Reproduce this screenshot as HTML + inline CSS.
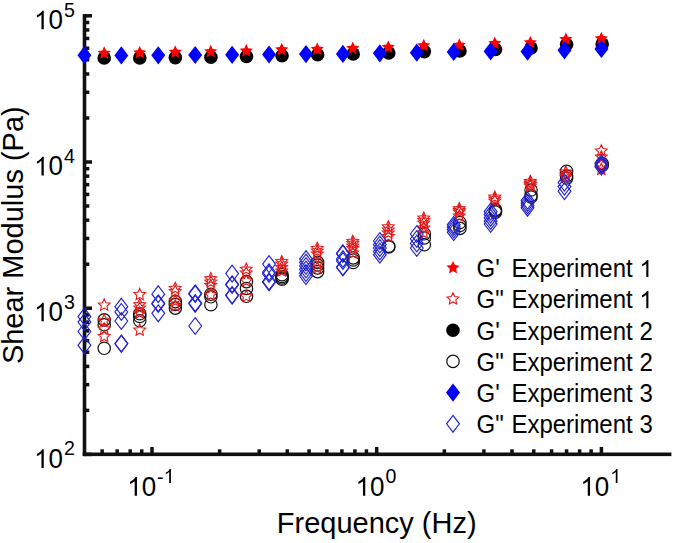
<!DOCTYPE html><html><head><meta charset="utf-8"><style>html,body{margin:0;padding:0;background:#fff;overflow:hidden}svg{display:block}text{font-family:"Liberation Sans",sans-serif;fill:#000}</style></head><body>
<svg width="675" height="543" viewBox="0 0 675 543">
<rect width="675" height="543" fill="#fff"/>
<g fill="#111">
<rect x="82.70" y="14.10" width="3.60" height="442.00"/>
<rect x="82.70" y="452.50" width="588.70" height="3.60"/>
<rect x="84.50" y="452.65" width="7.50" height="3.50"/>
<rect x="84.50" y="408.64" width="4.80" height="3.50"/>
<rect x="84.50" y="382.89" width="4.80" height="3.50"/>
<rect x="84.50" y="364.63" width="4.80" height="3.50"/>
<rect x="84.50" y="350.46" width="4.80" height="3.50"/>
<rect x="84.50" y="338.88" width="4.80" height="3.50"/>
<rect x="84.50" y="329.10" width="4.80" height="3.50"/>
<rect x="84.50" y="320.62" width="4.80" height="3.50"/>
<rect x="84.50" y="313.14" width="4.80" height="3.50"/>
<rect x="84.50" y="306.45" width="7.50" height="3.50"/>
<rect x="84.50" y="262.44" width="4.80" height="3.50"/>
<rect x="84.50" y="236.69" width="4.80" height="3.50"/>
<rect x="84.50" y="218.43" width="4.80" height="3.50"/>
<rect x="84.50" y="204.26" width="4.80" height="3.50"/>
<rect x="84.50" y="192.68" width="4.80" height="3.50"/>
<rect x="84.50" y="182.90" width="4.80" height="3.50"/>
<rect x="84.50" y="174.42" width="4.80" height="3.50"/>
<rect x="84.50" y="166.94" width="4.80" height="3.50"/>
<rect x="84.50" y="160.25" width="7.50" height="3.50"/>
<rect x="84.50" y="116.24" width="4.80" height="3.50"/>
<rect x="84.50" y="90.49" width="4.80" height="3.50"/>
<rect x="84.50" y="72.23" width="4.80" height="3.50"/>
<rect x="84.50" y="58.06" width="4.80" height="3.50"/>
<rect x="84.50" y="46.48" width="4.80" height="3.50"/>
<rect x="84.50" y="36.70" width="4.80" height="3.50"/>
<rect x="84.50" y="28.22" width="4.80" height="3.50"/>
<rect x="84.50" y="20.74" width="4.80" height="3.50"/>
<rect x="84.50" y="14.05" width="7.50" height="3.50"/>
<rect x="150.25" y="447.00" width="3.50" height="7.30"/>
<rect x="374.95" y="447.00" width="3.50" height="7.30"/>
<rect x="599.65" y="447.00" width="3.50" height="7.30"/>
<rect x="100.40" y="449.30" width="3.50" height="5.00"/>
<rect x="115.44" y="449.30" width="3.50" height="5.00"/>
<rect x="128.47" y="449.30" width="3.50" height="5.00"/>
<rect x="139.97" y="449.30" width="3.50" height="5.00"/>
<rect x="217.89" y="449.30" width="3.50" height="5.00"/>
<rect x="257.46" y="449.30" width="3.50" height="5.00"/>
<rect x="285.53" y="449.30" width="3.50" height="5.00"/>
<rect x="307.31" y="449.30" width="3.50" height="5.00"/>
<rect x="325.10" y="449.30" width="3.50" height="5.00"/>
<rect x="340.14" y="449.30" width="3.50" height="5.00"/>
<rect x="353.17" y="449.30" width="3.50" height="5.00"/>
<rect x="364.67" y="449.30" width="3.50" height="5.00"/>
<rect x="442.59" y="449.30" width="3.50" height="5.00"/>
<rect x="482.16" y="449.30" width="3.50" height="5.00"/>
<rect x="510.23" y="449.30" width="3.50" height="5.00"/>
<rect x="532.01" y="449.30" width="3.50" height="5.00"/>
<rect x="549.80" y="449.30" width="3.50" height="5.00"/>
<rect x="564.84" y="449.30" width="3.50" height="5.00"/>
<rect x="577.87" y="449.30" width="3.50" height="5.00"/>
<rect x="589.37" y="449.30" width="3.50" height="5.00"/>
</g>
<path transform="translate(34.07,29.30) scale(0.01270,-0.01270)" d="M763 0L583 0L583 1147Q518 1085 412 1023Q306 961 223 930L223 1104Q372 1174 484 1274Q596 1374 643 1466L763 1466Z"/>
<text transform="translate(48.53,29.30) scale(1,1.041)" font-size="26">0</text>
<text transform="translate(63.89,16.70) scale(1,1.041)" font-size="19.6">5</text>
<path transform="translate(34.07,175.40) scale(0.01270,-0.01270)" d="M763 0L583 0L583 1147Q518 1085 412 1023Q306 961 223 930L223 1104Q372 1174 484 1274Q596 1374 643 1466L763 1466Z"/>
<text transform="translate(48.53,175.40) scale(1,1.041)" font-size="26">0</text>
<text transform="translate(63.89,162.80) scale(1,1.041)" font-size="19.6">4</text>
<path transform="translate(34.07,321.30) scale(0.01270,-0.01270)" d="M763 0L583 0L583 1147Q518 1085 412 1023Q306 961 223 930L223 1104Q372 1174 484 1274Q596 1374 643 1466L763 1466Z"/>
<text transform="translate(48.53,321.30) scale(1,1.041)" font-size="26">0</text>
<text transform="translate(63.89,308.70) scale(1,1.041)" font-size="19.6">3</text>
<path transform="translate(34.07,467.90) scale(0.01270,-0.01270)" d="M763 0L583 0L583 1147Q518 1085 412 1023Q306 961 223 930L223 1104Q372 1174 484 1274Q596 1374 643 1466L763 1466Z"/>
<text transform="translate(48.53,467.90) scale(1,1.041)" font-size="26">0</text>
<text transform="translate(63.89,455.30) scale(1,1.041)" font-size="19.6">2</text>
<path transform="translate(127.27,495.70) scale(0.01270,-0.01270)" d="M763 0L583 0L583 1147Q518 1085 412 1023Q306 961 223 930L223 1104Q372 1174 484 1274Q596 1374 643 1466L763 1466Z"/>
<text transform="translate(141.73,495.70) scale(1,1.041)" font-size="26">0</text>
<text transform="translate(157.09,484.40) scale(1,1.041)" font-size="19.6">-</text>
<path transform="translate(163.62,483.10) scale(0.00957,-0.00957)" d="M763 0L583 0L583 1147Q518 1085 412 1023Q306 961 223 930L223 1104Q372 1174 484 1274Q596 1374 643 1466L763 1466Z"/>
<path transform="translate(355.57,495.70) scale(0.01270,-0.01270)" d="M763 0L583 0L583 1147Q518 1085 412 1023Q306 961 223 930L223 1104Q372 1174 484 1274Q596 1374 643 1466L763 1466Z"/>
<text transform="translate(370.03,495.70) scale(1,1.041)" font-size="26">0</text>
<text transform="translate(385.39,483.10) scale(1,1.041)" font-size="19.6">0</text>
<path transform="translate(580.37,495.70) scale(0.01270,-0.01270)" d="M763 0L583 0L583 1147Q518 1085 412 1023Q306 961 223 930L223 1104Q372 1174 484 1274Q596 1374 643 1466L763 1466Z"/>
<text transform="translate(594.83,495.70) scale(1,1.041)" font-size="26">0</text>
<path transform="translate(610.19,483.10) scale(0.00957,-0.00957)" d="M763 0L583 0L583 1147Q518 1085 412 1023Q306 961 223 930L223 1104Q372 1174 484 1274Q596 1374 643 1466L763 1466Z"/>
<text transform="translate(376.70,533.20) scale(1,1.041)" text-anchor="middle" font-size="29">Frequency (Hz)</text>
<text transform="translate(23.2,235.2) rotate(-90) scale(1,1.041)" text-anchor="middle" font-size="29">Shear Modulus (Pa)</text>
<circle cx="104.20" cy="58.00" r="6.8" fill="#000000"/>
<circle cx="139.77" cy="58.00" r="6.8" fill="#000000"/>
<circle cx="175.34" cy="57.60" r="6.8" fill="#000000"/>
<circle cx="210.91" cy="57.20" r="6.8" fill="#000000"/>
<circle cx="246.48" cy="56.50" r="6.8" fill="#000000"/>
<circle cx="282.05" cy="55.70" r="6.8" fill="#000000"/>
<circle cx="317.62" cy="54.70" r="6.8" fill="#000000"/>
<circle cx="353.19" cy="54.00" r="6.8" fill="#000000"/>
<circle cx="388.76" cy="53.00" r="6.8" fill="#000000"/>
<circle cx="424.33" cy="51.60" r="6.8" fill="#000000"/>
<circle cx="459.90" cy="50.90" r="6.8" fill="#000000"/>
<circle cx="495.47" cy="49.50" r="6.8" fill="#000000"/>
<circle cx="531.04" cy="48.00" r="6.8" fill="#000000"/>
<circle cx="566.61" cy="44.50" r="6.8" fill="#000000"/>
<circle cx="602.18" cy="44.00" r="6.8" fill="#000000"/>
<circle cx="104.20" cy="319.90" r="6.2" fill="none" stroke="#111111" stroke-width="1.2"/>
<circle cx="104.20" cy="324.80" r="6.2" fill="none" stroke="#111111" stroke-width="1.2"/>
<circle cx="104.20" cy="348.30" r="6.2" fill="none" stroke="#111111" stroke-width="1.2"/>
<circle cx="139.77" cy="313.70" r="6.2" fill="none" stroke="#111111" stroke-width="1.2"/>
<circle cx="139.77" cy="316.50" r="6.2" fill="none" stroke="#111111" stroke-width="1.2"/>
<circle cx="139.77" cy="320.80" r="6.2" fill="none" stroke="#111111" stroke-width="1.2"/>
<circle cx="175.34" cy="301.60" r="6.2" fill="none" stroke="#111111" stroke-width="1.2"/>
<circle cx="175.34" cy="304.50" r="6.2" fill="none" stroke="#111111" stroke-width="1.2"/>
<circle cx="175.34" cy="308.10" r="6.2" fill="none" stroke="#111111" stroke-width="1.2"/>
<circle cx="210.91" cy="294.30" r="6.2" fill="none" stroke="#111111" stroke-width="1.2"/>
<circle cx="210.91" cy="296.80" r="6.2" fill="none" stroke="#111111" stroke-width="1.2"/>
<circle cx="210.91" cy="304.70" r="6.2" fill="none" stroke="#111111" stroke-width="1.2"/>
<circle cx="246.48" cy="281.60" r="6.2" fill="none" stroke="#111111" stroke-width="1.2"/>
<circle cx="246.48" cy="288.50" r="6.2" fill="none" stroke="#111111" stroke-width="1.2"/>
<circle cx="246.48" cy="296.30" r="6.2" fill="none" stroke="#111111" stroke-width="1.2"/>
<circle cx="282.05" cy="274.70" r="6.2" fill="none" stroke="#111111" stroke-width="1.2"/>
<circle cx="282.05" cy="276.50" r="6.2" fill="none" stroke="#111111" stroke-width="1.2"/>
<circle cx="282.05" cy="278.00" r="6.2" fill="none" stroke="#111111" stroke-width="1.2"/>
<circle cx="282.05" cy="279.30" r="6.2" fill="none" stroke="#111111" stroke-width="1.2"/>
<circle cx="317.62" cy="262.40" r="6.2" fill="none" stroke="#111111" stroke-width="1.2"/>
<circle cx="317.62" cy="265.00" r="6.2" fill="none" stroke="#111111" stroke-width="1.2"/>
<circle cx="317.62" cy="268.00" r="6.2" fill="none" stroke="#111111" stroke-width="1.2"/>
<circle cx="317.62" cy="271.60" r="6.2" fill="none" stroke="#111111" stroke-width="1.2"/>
<circle cx="353.19" cy="257.90" r="6.2" fill="none" stroke="#111111" stroke-width="1.2"/>
<circle cx="353.19" cy="260.00" r="6.2" fill="none" stroke="#111111" stroke-width="1.2"/>
<circle cx="353.19" cy="262.50" r="6.2" fill="none" stroke="#111111" stroke-width="1.2"/>
<circle cx="388.76" cy="246.20" r="6.2" fill="none" stroke="#111111" stroke-width="1.2"/>
<circle cx="388.76" cy="247.00" r="6.2" fill="none" stroke="#111111" stroke-width="1.2"/>
<circle cx="424.33" cy="233.80" r="6.2" fill="none" stroke="#111111" stroke-width="1.2"/>
<circle cx="424.33" cy="238.00" r="6.2" fill="none" stroke="#111111" stroke-width="1.2"/>
<circle cx="424.33" cy="244.70" r="6.2" fill="none" stroke="#111111" stroke-width="1.2"/>
<circle cx="459.90" cy="222.50" r="6.2" fill="none" stroke="#111111" stroke-width="1.2"/>
<circle cx="459.90" cy="225.50" r="6.2" fill="none" stroke="#111111" stroke-width="1.2"/>
<circle cx="459.90" cy="228.40" r="6.2" fill="none" stroke="#111111" stroke-width="1.2"/>
<circle cx="495.47" cy="209.90" r="6.2" fill="none" stroke="#111111" stroke-width="1.2"/>
<circle cx="495.47" cy="211.00" r="6.2" fill="none" stroke="#111111" stroke-width="1.2"/>
<circle cx="495.47" cy="212.20" r="6.2" fill="none" stroke="#111111" stroke-width="1.2"/>
<circle cx="531.04" cy="190.00" r="6.2" fill="none" stroke="#111111" stroke-width="1.2"/>
<circle cx="531.04" cy="195.50" r="6.2" fill="none" stroke="#111111" stroke-width="1.2"/>
<circle cx="531.04" cy="197.00" r="6.2" fill="none" stroke="#111111" stroke-width="1.2"/>
<circle cx="566.61" cy="171.30" r="6.2" fill="none" stroke="#111111" stroke-width="1.2"/>
<circle cx="566.61" cy="176.00" r="6.2" fill="none" stroke="#111111" stroke-width="1.2"/>
<circle cx="566.61" cy="178.00" r="6.2" fill="none" stroke="#111111" stroke-width="1.2"/>
<circle cx="602.18" cy="163.50" r="6.2" fill="none" stroke="#111111" stroke-width="1.2"/>
<circle cx="602.18" cy="165.50" r="6.2" fill="none" stroke="#111111" stroke-width="1.2"/>
<polygon points="104.20,46.30 106.15,50.52 110.76,51.07 107.35,54.22 108.26,58.78 104.20,56.51 100.14,58.78 101.05,54.22 97.64,51.07 102.25,50.52" fill="#ff0000"/>
<polygon points="139.71,45.90 141.66,50.12 146.27,50.67 142.86,53.82 143.77,58.38 139.71,56.11 135.65,58.38 136.56,53.82 133.15,50.67 137.76,50.12" fill="#ff0000"/>
<polygon points="175.22,45.30 177.17,49.52 181.78,50.07 178.37,53.22 179.28,57.78 175.22,55.51 171.16,57.78 172.07,53.22 168.66,50.07 173.27,49.52" fill="#ff0000"/>
<polygon points="210.73,44.70 212.68,48.92 217.29,49.47 213.88,52.62 214.79,57.18 210.73,54.91 206.67,57.18 207.58,52.62 204.17,49.47 208.78,48.92" fill="#ff0000"/>
<polygon points="246.24,44.10 248.19,48.32 252.80,48.87 249.39,52.02 250.30,56.58 246.24,54.31 242.18,56.58 243.09,52.02 239.68,48.87 244.29,48.32" fill="#ff0000"/>
<polygon points="281.75,42.80 283.70,47.02 288.31,47.57 284.90,50.72 285.81,55.28 281.75,53.01 277.69,55.28 278.60,50.72 275.19,47.57 279.80,47.02" fill="#ff0000"/>
<polygon points="317.26,42.40 319.21,46.62 323.82,47.17 320.41,50.32 321.32,54.88 317.26,52.61 313.20,54.88 314.11,50.32 310.70,47.17 315.31,46.62" fill="#ff0000"/>
<polygon points="352.77,41.60 354.72,45.82 359.33,46.37 355.92,49.52 356.83,54.08 352.77,51.81 348.71,54.08 349.62,49.52 346.21,46.37 350.82,45.82" fill="#ff0000"/>
<polygon points="388.28,40.40 390.23,44.62 394.84,45.17 391.43,48.32 392.34,52.88 388.28,50.61 384.22,52.88 385.13,48.32 381.72,45.17 386.33,44.62" fill="#ff0000"/>
<polygon points="423.79,38.80 425.74,43.02 430.35,43.57 426.94,46.72 427.85,51.28 423.79,49.01 419.73,51.28 420.64,46.72 417.23,43.57 421.84,43.02" fill="#ff0000"/>
<polygon points="459.30,38.30 461.25,42.52 465.86,43.07 462.45,46.22 463.36,50.78 459.30,48.51 455.24,50.78 456.15,46.22 452.74,43.07 457.35,42.52" fill="#ff0000"/>
<polygon points="494.81,36.60 496.76,40.82 501.37,41.37 497.96,44.52 498.87,49.08 494.81,46.81 490.75,49.08 491.66,44.52 488.25,41.37 492.86,40.82" fill="#ff0000"/>
<polygon points="530.32,35.70 532.27,39.92 536.88,40.47 533.47,43.62 534.38,48.18 530.32,45.91 526.26,48.18 527.17,43.62 523.76,40.47 528.37,39.92" fill="#ff0000"/>
<polygon points="565.83,32.50 567.78,36.72 572.39,37.27 568.98,40.42 569.89,44.98 565.83,42.71 561.77,44.98 562.68,40.42 559.27,37.27 563.88,36.72" fill="#ff0000"/>
<polygon points="601.34,31.80 603.29,36.02 607.90,36.57 604.49,39.72 605.40,44.28 601.34,42.01 597.28,44.28 598.19,39.72 594.78,36.57 599.39,36.02" fill="#ff0000"/>
<polygon points="104.20,298.90 105.95,302.69 110.10,303.18 107.03,306.02 107.84,310.12 104.20,308.08 100.56,310.12 101.37,306.02 98.30,303.18 102.45,302.69" fill="none" stroke="#e41a1a" stroke-width="1.1" stroke-linejoin="miter"/>
<polygon points="104.20,314.20 105.95,317.99 110.10,318.48 107.03,321.32 107.84,325.42 104.20,323.38 100.56,325.42 101.37,321.32 98.30,318.48 102.45,317.99" fill="none" stroke="#e41a1a" stroke-width="1.1" stroke-linejoin="miter"/>
<polygon points="104.20,322.80 105.95,326.59 110.10,327.08 107.03,329.92 107.84,334.02 104.20,331.98 100.56,334.02 101.37,329.92 98.30,327.08 102.45,326.59" fill="none" stroke="#e41a1a" stroke-width="1.1" stroke-linejoin="miter"/>
<polygon points="104.20,330.30 105.95,334.09 110.10,334.58 107.03,337.42 107.84,341.52 104.20,339.48 100.56,341.52 101.37,337.42 98.30,334.58 102.45,334.09" fill="none" stroke="#e41a1a" stroke-width="1.1" stroke-linejoin="miter"/>
<polygon points="139.71,288.40 141.46,292.19 145.61,292.68 142.54,295.52 143.35,299.62 139.71,297.58 136.07,299.62 136.88,295.52 133.81,292.68 137.96,292.19" fill="none" stroke="#e41a1a" stroke-width="1.1" stroke-linejoin="miter"/>
<polygon points="139.71,298.60 141.46,302.39 145.61,302.88 142.54,305.72 143.35,309.82 139.71,307.78 136.07,309.82 136.88,305.72 133.81,302.88 137.96,302.39" fill="none" stroke="#e41a1a" stroke-width="1.1" stroke-linejoin="miter"/>
<polygon points="139.71,301.80 141.46,305.59 145.61,306.08 142.54,308.92 143.35,313.02 139.71,310.98 136.07,313.02 136.88,308.92 133.81,306.08 137.96,305.59" fill="none" stroke="#e41a1a" stroke-width="1.1" stroke-linejoin="miter"/>
<polygon points="139.71,306.80 141.46,310.59 145.61,311.08 142.54,313.92 143.35,318.02 139.71,315.98 136.07,318.02 136.88,313.92 133.81,311.08 137.96,310.59" fill="none" stroke="#e41a1a" stroke-width="1.1" stroke-linejoin="miter"/>
<polygon points="139.71,324.00 141.46,327.79 145.61,328.28 142.54,331.12 143.35,335.22 139.71,333.18 136.07,335.22 136.88,331.12 133.81,328.28 137.96,327.79" fill="none" stroke="#e41a1a" stroke-width="1.1" stroke-linejoin="miter"/>
<polygon points="175.22,282.30 176.97,286.09 181.12,286.58 178.05,289.42 178.86,293.52 175.22,291.48 171.58,293.52 172.39,289.42 169.32,286.58 173.47,286.09" fill="none" stroke="#e41a1a" stroke-width="1.1" stroke-linejoin="miter"/>
<polygon points="175.22,285.30 176.97,289.09 181.12,289.58 178.05,292.42 178.86,296.52 175.22,294.48 171.58,296.52 172.39,292.42 169.32,289.58 173.47,289.09" fill="none" stroke="#e41a1a" stroke-width="1.1" stroke-linejoin="miter"/>
<polygon points="175.22,294.80 176.97,298.59 181.12,299.08 178.05,301.92 178.86,306.02 175.22,303.98 171.58,306.02 172.39,301.92 169.32,299.08 173.47,298.59" fill="none" stroke="#e41a1a" stroke-width="1.1" stroke-linejoin="miter"/>
<polygon points="175.22,299.80 176.97,303.59 181.12,304.08 178.05,306.92 178.86,311.02 175.22,308.98 171.58,311.02 172.39,306.92 169.32,304.08 173.47,303.59" fill="none" stroke="#e41a1a" stroke-width="1.1" stroke-linejoin="miter"/>
<polygon points="210.73,272.60 212.48,276.39 216.63,276.88 213.56,279.72 214.37,283.82 210.73,281.78 207.09,283.82 207.90,279.72 204.83,276.88 208.98,276.39" fill="none" stroke="#e41a1a" stroke-width="1.1" stroke-linejoin="miter"/>
<polygon points="210.73,275.80 212.48,279.59 216.63,280.08 213.56,282.92 214.37,287.02 210.73,284.98 207.09,287.02 207.90,282.92 204.83,280.08 208.98,279.59" fill="none" stroke="#e41a1a" stroke-width="1.1" stroke-linejoin="miter"/>
<polygon points="210.73,279.30 212.48,283.09 216.63,283.58 213.56,286.42 214.37,290.52 210.73,288.48 207.09,290.52 207.90,286.42 204.83,283.58 208.98,283.09" fill="none" stroke="#e41a1a" stroke-width="1.1" stroke-linejoin="miter"/>
<polygon points="210.73,288.80 212.48,292.59 216.63,293.08 213.56,295.92 214.37,300.02 210.73,297.98 207.09,300.02 207.90,295.92 204.83,293.08 208.98,292.59" fill="none" stroke="#e41a1a" stroke-width="1.1" stroke-linejoin="miter"/>
<polygon points="246.24,263.10 247.99,266.89 252.14,267.38 249.07,270.22 249.88,274.32 246.24,272.28 242.60,274.32 243.41,270.22 240.34,267.38 244.49,266.89" fill="none" stroke="#e41a1a" stroke-width="1.1" stroke-linejoin="miter"/>
<polygon points="246.24,266.80 247.99,270.59 252.14,271.08 249.07,273.92 249.88,278.02 246.24,275.98 242.60,278.02 243.41,273.92 240.34,271.08 244.49,270.59" fill="none" stroke="#e41a1a" stroke-width="1.1" stroke-linejoin="miter"/>
<polygon points="246.24,274.80 247.99,278.59 252.14,279.08 249.07,281.92 249.88,286.02 246.24,283.98 242.60,286.02 243.41,281.92 240.34,279.08 244.49,278.59" fill="none" stroke="#e41a1a" stroke-width="1.1" stroke-linejoin="miter"/>
<polygon points="246.24,290.20 247.99,293.99 252.14,294.48 249.07,297.32 249.88,301.42 246.24,299.38 242.60,301.42 243.41,297.32 240.34,294.48 244.49,293.99" fill="none" stroke="#e41a1a" stroke-width="1.1" stroke-linejoin="miter"/>
<polygon points="281.75,255.50 283.50,259.29 287.65,259.78 284.58,262.62 285.39,266.72 281.75,264.68 278.11,266.72 278.92,262.62 275.85,259.78 280.00,259.29" fill="none" stroke="#e41a1a" stroke-width="1.1" stroke-linejoin="miter"/>
<polygon points="281.75,257.80 283.50,261.59 287.65,262.08 284.58,264.92 285.39,269.02 281.75,266.98 278.11,269.02 278.92,264.92 275.85,262.08 280.00,261.59" fill="none" stroke="#e41a1a" stroke-width="1.1" stroke-linejoin="miter"/>
<polygon points="281.75,261.30 283.50,265.09 287.65,265.58 284.58,268.42 285.39,272.52 281.75,270.48 278.11,272.52 278.92,268.42 275.85,265.58 280.00,265.09" fill="none" stroke="#e41a1a" stroke-width="1.1" stroke-linejoin="miter"/>
<polygon points="281.75,264.80 283.50,268.59 287.65,269.08 284.58,271.92 285.39,276.02 281.75,273.98 278.11,276.02 278.92,271.92 275.85,269.08 280.00,268.59" fill="none" stroke="#e41a1a" stroke-width="1.1" stroke-linejoin="miter"/>
<polygon points="317.26,242.30 319.01,246.09 323.16,246.58 320.09,249.42 320.90,253.52 317.26,251.48 313.62,253.52 314.43,249.42 311.36,246.58 315.51,246.09" fill="none" stroke="#e41a1a" stroke-width="1.1" stroke-linejoin="miter"/>
<polygon points="317.26,244.80 319.01,248.59 323.16,249.08 320.09,251.92 320.90,256.02 317.26,253.98 313.62,256.02 314.43,251.92 311.36,249.08 315.51,248.59" fill="none" stroke="#e41a1a" stroke-width="1.1" stroke-linejoin="miter"/>
<polygon points="317.26,247.80 319.01,251.59 323.16,252.08 320.09,254.92 320.90,259.02 317.26,256.98 313.62,259.02 314.43,254.92 311.36,252.08 315.51,251.59" fill="none" stroke="#e41a1a" stroke-width="1.1" stroke-linejoin="miter"/>
<polygon points="317.26,257.80 319.01,261.59 323.16,262.08 320.09,264.92 320.90,269.02 317.26,266.98 313.62,269.02 314.43,264.92 311.36,262.08 315.51,261.59" fill="none" stroke="#e41a1a" stroke-width="1.1" stroke-linejoin="miter"/>
<polygon points="317.26,261.80 319.01,265.59 323.16,266.08 320.09,268.92 320.90,273.02 317.26,270.98 313.62,273.02 314.43,268.92 311.36,266.08 315.51,265.59" fill="none" stroke="#e41a1a" stroke-width="1.1" stroke-linejoin="miter"/>
<polygon points="352.77,235.30 354.52,239.09 358.67,239.58 355.60,242.42 356.41,246.52 352.77,244.48 349.13,246.52 349.94,242.42 346.87,239.58 351.02,239.09" fill="none" stroke="#e41a1a" stroke-width="1.1" stroke-linejoin="miter"/>
<polygon points="352.77,237.30 354.52,241.09 358.67,241.58 355.60,244.42 356.41,248.52 352.77,246.48 349.13,248.52 349.94,244.42 346.87,241.58 351.02,241.09" fill="none" stroke="#e41a1a" stroke-width="1.1" stroke-linejoin="miter"/>
<polygon points="352.77,239.80 354.52,243.59 358.67,244.08 355.60,246.92 356.41,251.02 352.77,248.98 349.13,251.02 349.94,246.92 346.87,244.08 351.02,243.59" fill="none" stroke="#e41a1a" stroke-width="1.1" stroke-linejoin="miter"/>
<polygon points="352.77,242.30 354.52,246.09 358.67,246.58 355.60,249.42 356.41,253.52 352.77,251.48 349.13,253.52 349.94,249.42 346.87,246.58 351.02,246.09" fill="none" stroke="#e41a1a" stroke-width="1.1" stroke-linejoin="miter"/>
<polygon points="352.77,246.80 354.52,250.59 358.67,251.08 355.60,253.92 356.41,258.02 352.77,255.98 349.13,258.02 349.94,253.92 346.87,251.08 351.02,250.59" fill="none" stroke="#e41a1a" stroke-width="1.1" stroke-linejoin="miter"/>
<polygon points="388.28,220.70 390.03,224.49 394.18,224.98 391.11,227.82 391.92,231.92 388.28,229.88 384.64,231.92 385.45,227.82 382.38,224.98 386.53,224.49" fill="none" stroke="#e41a1a" stroke-width="1.1" stroke-linejoin="miter"/>
<polygon points="388.28,223.80 390.03,227.59 394.18,228.08 391.11,230.92 391.92,235.02 388.28,232.98 384.64,235.02 385.45,230.92 382.38,228.08 386.53,227.59" fill="none" stroke="#e41a1a" stroke-width="1.1" stroke-linejoin="miter"/>
<polygon points="388.28,226.80 390.03,230.59 394.18,231.08 391.11,233.92 391.92,238.02 388.28,235.98 384.64,238.02 385.45,233.92 382.38,231.08 386.53,230.59" fill="none" stroke="#e41a1a" stroke-width="1.1" stroke-linejoin="miter"/>
<polygon points="388.28,230.30 390.03,234.09 394.18,234.58 391.11,237.42 391.92,241.52 388.28,239.48 384.64,241.52 385.45,237.42 382.38,234.58 386.53,234.09" fill="none" stroke="#e41a1a" stroke-width="1.1" stroke-linejoin="miter"/>
<polygon points="423.79,212.00 425.54,215.79 429.69,216.28 426.62,219.12 427.43,223.22 423.79,221.18 420.15,223.22 420.96,219.12 417.89,216.28 422.04,215.79" fill="none" stroke="#e41a1a" stroke-width="1.1" stroke-linejoin="miter"/>
<polygon points="423.79,214.30 425.54,218.09 429.69,218.58 426.62,221.42 427.43,225.52 423.79,223.48 420.15,225.52 420.96,221.42 417.89,218.58 422.04,218.09" fill="none" stroke="#e41a1a" stroke-width="1.1" stroke-linejoin="miter"/>
<polygon points="423.79,216.80 425.54,220.59 429.69,221.08 426.62,223.92 427.43,228.02 423.79,225.98 420.15,228.02 420.96,223.92 417.89,221.08 422.04,220.59" fill="none" stroke="#e41a1a" stroke-width="1.1" stroke-linejoin="miter"/>
<polygon points="423.79,221.80 425.54,225.59 429.69,226.08 426.62,228.92 427.43,233.02 423.79,230.98 420.15,233.02 420.96,228.92 417.89,226.08 422.04,225.59" fill="none" stroke="#e41a1a" stroke-width="1.1" stroke-linejoin="miter"/>
<polygon points="423.79,226.80 425.54,230.59 429.69,231.08 426.62,233.92 427.43,238.02 423.79,235.98 420.15,238.02 420.96,233.92 417.89,231.08 422.04,230.59" fill="none" stroke="#e41a1a" stroke-width="1.1" stroke-linejoin="miter"/>
<polygon points="459.30,202.60 461.05,206.39 465.20,206.88 462.13,209.72 462.94,213.82 459.30,211.78 455.66,213.82 456.47,209.72 453.40,206.88 457.55,206.39" fill="none" stroke="#e41a1a" stroke-width="1.1" stroke-linejoin="miter"/>
<polygon points="459.30,204.30 461.05,208.09 465.20,208.58 462.13,211.42 462.94,215.52 459.30,213.48 455.66,215.52 456.47,211.42 453.40,208.58 457.55,208.09" fill="none" stroke="#e41a1a" stroke-width="1.1" stroke-linejoin="miter"/>
<polygon points="459.30,205.80 461.05,209.59 465.20,210.08 462.13,212.92 462.94,217.02 459.30,214.98 455.66,217.02 456.47,212.92 453.40,210.08 457.55,209.59" fill="none" stroke="#e41a1a" stroke-width="1.1" stroke-linejoin="miter"/>
<polygon points="459.30,209.80 461.05,213.59 465.20,214.08 462.13,216.92 462.94,221.02 459.30,218.98 455.66,221.02 456.47,216.92 453.40,214.08 457.55,213.59" fill="none" stroke="#e41a1a" stroke-width="1.1" stroke-linejoin="miter"/>
<polygon points="494.81,191.00 496.56,194.79 500.71,195.28 497.64,198.12 498.45,202.22 494.81,200.18 491.17,202.22 491.98,198.12 488.91,195.28 493.06,194.79" fill="none" stroke="#e41a1a" stroke-width="1.1" stroke-linejoin="miter"/>
<polygon points="494.81,192.80 496.56,196.59 500.71,197.08 497.64,199.92 498.45,204.02 494.81,201.98 491.17,204.02 491.98,199.92 488.91,197.08 493.06,196.59" fill="none" stroke="#e41a1a" stroke-width="1.1" stroke-linejoin="miter"/>
<polygon points="494.81,194.80 496.56,198.59 500.71,199.08 497.64,201.92 498.45,206.02 494.81,203.98 491.17,206.02 491.98,201.92 488.91,199.08 493.06,198.59" fill="none" stroke="#e41a1a" stroke-width="1.1" stroke-linejoin="miter"/>
<polygon points="530.32,175.30 532.07,179.09 536.22,179.58 533.15,182.42 533.96,186.52 530.32,184.48 526.68,186.52 527.49,182.42 524.42,179.58 528.57,179.09" fill="none" stroke="#e41a1a" stroke-width="1.1" stroke-linejoin="miter"/>
<polygon points="530.32,176.80 532.07,180.59 536.22,181.08 533.15,183.92 533.96,188.02 530.32,185.98 526.68,188.02 527.49,183.92 524.42,181.08 528.57,180.59" fill="none" stroke="#e41a1a" stroke-width="1.1" stroke-linejoin="miter"/>
<polygon points="530.32,178.30 532.07,182.09 536.22,182.58 533.15,185.42 533.96,189.52 530.32,187.48 526.68,189.52 527.49,185.42 524.42,182.58 528.57,182.09" fill="none" stroke="#e41a1a" stroke-width="1.1" stroke-linejoin="miter"/>
<polygon points="530.32,179.80 532.07,183.59 536.22,184.08 533.15,186.92 533.96,191.02 530.32,188.98 526.68,191.02 527.49,186.92 524.42,184.08 528.57,183.59" fill="none" stroke="#e41a1a" stroke-width="1.1" stroke-linejoin="miter"/>
<polygon points="565.83,166.00 567.58,169.79 571.73,170.28 568.66,173.12 569.47,177.22 565.83,175.18 562.19,177.22 563.00,173.12 559.93,170.28 564.08,169.79" fill="none" stroke="#e41a1a" stroke-width="1.1" stroke-linejoin="miter"/>
<polygon points="565.83,168.80 567.58,172.59 571.73,173.08 568.66,175.92 569.47,180.02 565.83,177.98 562.19,180.02 563.00,175.92 559.93,173.08 564.08,172.59" fill="none" stroke="#e41a1a" stroke-width="1.1" stroke-linejoin="miter"/>
<polygon points="565.83,170.80 567.58,174.59 571.73,175.08 568.66,177.92 569.47,182.02 565.83,179.98 562.19,182.02 563.00,177.92 559.93,175.08 564.08,174.59" fill="none" stroke="#e41a1a" stroke-width="1.1" stroke-linejoin="miter"/>
<polygon points="601.34,144.80 603.09,148.59 607.24,149.08 604.17,151.92 604.98,156.02 601.34,153.98 597.70,156.02 598.51,151.92 595.44,149.08 599.59,148.59" fill="none" stroke="#e41a1a" stroke-width="1.1" stroke-linejoin="miter"/>
<polygon points="601.34,150.80 603.09,154.59 607.24,155.08 604.17,157.92 604.98,162.02 601.34,159.98 597.70,162.02 598.51,157.92 595.44,155.08 599.59,154.59" fill="none" stroke="#e41a1a" stroke-width="1.1" stroke-linejoin="miter"/>
<polygon points="601.34,158.80 603.09,162.59 607.24,163.08 604.17,165.92 604.98,170.02 601.34,167.98 597.70,170.02 598.51,165.92 595.44,163.08 599.59,162.59" fill="none" stroke="#e41a1a" stroke-width="1.1" stroke-linejoin="miter"/>
<polygon points="601.34,163.30 603.09,167.09 607.24,167.58 604.17,170.42 604.98,174.52 601.34,172.48 597.70,174.52 598.51,170.42 595.44,167.58 599.59,167.09" fill="none" stroke="#e41a1a" stroke-width="1.1" stroke-linejoin="miter"/>
<polygon points="84.40,46.10 91.40,55.20 84.40,64.30 77.40,55.20" fill="#0000ff"/>
<polygon points="121.33,46.30 128.33,55.40 121.33,64.50 114.33,55.40" fill="#0000ff"/>
<polygon points="158.26,46.20 165.26,55.30 158.26,64.40 151.26,55.30" fill="#0000ff"/>
<polygon points="195.19,45.90 202.19,55.00 195.19,64.10 188.19,55.00" fill="#0000ff"/>
<polygon points="232.12,45.70 239.12,54.80 232.12,63.90 225.12,54.80" fill="#0000ff"/>
<polygon points="269.05,45.40 276.05,54.50 269.05,63.60 262.05,54.50" fill="#0000ff"/>
<polygon points="305.98,45.00 312.98,54.10 305.98,63.20 298.98,54.10" fill="#0000ff"/>
<polygon points="342.91,44.80 349.91,53.90 342.91,63.00 335.91,53.90" fill="#0000ff"/>
<polygon points="379.84,44.20 386.84,53.30 379.84,62.40 372.84,53.30" fill="#0000ff"/>
<polygon points="416.77,43.60 423.77,52.70 416.77,61.80 409.77,52.70" fill="#0000ff"/>
<polygon points="453.70,42.90 460.70,52.00 453.70,61.10 446.70,52.00" fill="#0000ff"/>
<polygon points="490.63,42.20 497.63,51.30 490.63,60.40 483.63,51.30" fill="#0000ff"/>
<polygon points="527.56,42.50 534.56,51.60 527.56,60.70 520.56,51.60" fill="#0000ff"/>
<polygon points="564.49,41.20 571.49,50.30 564.49,59.40 557.49,50.30" fill="#0000ff"/>
<polygon points="601.42,39.80 608.42,48.90 601.42,58.00 594.42,48.90" fill="#0000ff"/>
<polygon points="84.40,308.20 90.80,316.60 84.40,325.00 78.00,316.60" fill="none" stroke="#2222d4" stroke-width="1.15"/>
<polygon points="84.40,313.70 90.80,322.10 84.40,330.50 78.00,322.10" fill="none" stroke="#2222d4" stroke-width="1.15"/>
<polygon points="84.40,323.10 90.80,331.50 84.40,339.90 78.00,331.50" fill="none" stroke="#2222d4" stroke-width="1.15"/>
<polygon points="84.40,336.90 90.80,345.30 84.40,353.70 78.00,345.30" fill="none" stroke="#2222d4" stroke-width="1.15"/>
<polygon points="121.33,298.30 127.73,306.70 121.33,315.10 114.93,306.70" fill="none" stroke="#2222d4" stroke-width="1.15"/>
<polygon points="121.33,303.50 127.73,311.90 121.33,320.30 114.93,311.90" fill="none" stroke="#2222d4" stroke-width="1.15"/>
<polygon points="121.33,312.60 127.73,321.00 121.33,329.40 114.93,321.00" fill="none" stroke="#2222d4" stroke-width="1.15"/>
<polygon points="121.33,335.10 127.73,343.50 121.33,351.90 114.93,343.50" fill="none" stroke="#2222d4" stroke-width="1.15"/>
<polygon points="121.33,335.40 127.73,343.80 121.33,352.20 114.93,343.80" fill="none" stroke="#2222d4" stroke-width="1.15"/>
<polygon points="158.26,285.80 164.66,294.20 158.26,302.60 151.86,294.20" fill="none" stroke="#2222d4" stroke-width="1.15"/>
<polygon points="158.26,294.90 164.66,303.30 158.26,311.70 151.86,303.30" fill="none" stroke="#2222d4" stroke-width="1.15"/>
<polygon points="158.26,295.60 164.66,304.00 158.26,312.40 151.86,304.00" fill="none" stroke="#2222d4" stroke-width="1.15"/>
<polygon points="158.26,304.90 164.66,313.30 158.26,321.70 151.86,313.30" fill="none" stroke="#2222d4" stroke-width="1.15"/>
<polygon points="195.19,284.90 201.59,293.30 195.19,301.70 188.79,293.30" fill="none" stroke="#2222d4" stroke-width="1.15"/>
<polygon points="195.19,285.60 201.59,294.00 195.19,302.40 188.79,294.00" fill="none" stroke="#2222d4" stroke-width="1.15"/>
<polygon points="195.19,294.60 201.59,303.00 195.19,311.40 188.79,303.00" fill="none" stroke="#2222d4" stroke-width="1.15"/>
<polygon points="195.19,295.40 201.59,303.80 195.19,312.20 188.79,303.80" fill="none" stroke="#2222d4" stroke-width="1.15"/>
<polygon points="195.19,317.60 201.59,326.00 195.19,334.40 188.79,326.00" fill="none" stroke="#2222d4" stroke-width="1.15"/>
<polygon points="232.12,265.20 238.52,273.60 232.12,282.00 225.72,273.60" fill="none" stroke="#2222d4" stroke-width="1.15"/>
<polygon points="232.12,275.90 238.52,284.30 232.12,292.70 225.72,284.30" fill="none" stroke="#2222d4" stroke-width="1.15"/>
<polygon points="232.12,276.40 238.52,284.80 232.12,293.20 225.72,284.80" fill="none" stroke="#2222d4" stroke-width="1.15"/>
<polygon points="232.12,286.70 238.52,295.10 232.12,303.50 225.72,295.10" fill="none" stroke="#2222d4" stroke-width="1.15"/>
<polygon points="232.12,287.20 238.52,295.60 232.12,304.00 225.72,295.60" fill="none" stroke="#2222d4" stroke-width="1.15"/>
<polygon points="269.05,255.70 275.45,264.10 269.05,272.50 262.65,264.10" fill="none" stroke="#2222d4" stroke-width="1.15"/>
<polygon points="269.05,263.80 275.45,272.20 269.05,280.60 262.65,272.20" fill="none" stroke="#2222d4" stroke-width="1.15"/>
<polygon points="269.05,265.60 275.45,274.00 269.05,282.40 262.65,274.00" fill="none" stroke="#2222d4" stroke-width="1.15"/>
<polygon points="269.05,273.10 275.45,281.50 269.05,289.90 262.65,281.50" fill="none" stroke="#2222d4" stroke-width="1.15"/>
<polygon points="269.05,273.90 275.45,282.30 269.05,290.70 262.65,282.30" fill="none" stroke="#2222d4" stroke-width="1.15"/>
<polygon points="305.98,250.70 312.38,259.10 305.98,267.50 299.58,259.10" fill="none" stroke="#2222d4" stroke-width="1.15"/>
<polygon points="305.98,254.10 312.38,262.50 305.98,270.90 299.58,262.50" fill="none" stroke="#2222d4" stroke-width="1.15"/>
<polygon points="305.98,257.60 312.38,266.00 305.98,274.40 299.58,266.00" fill="none" stroke="#2222d4" stroke-width="1.15"/>
<polygon points="305.98,261.10 312.38,269.50 305.98,277.90 299.58,269.50" fill="none" stroke="#2222d4" stroke-width="1.15"/>
<polygon points="305.98,264.60 312.38,273.00 305.98,281.40 299.58,273.00" fill="none" stroke="#2222d4" stroke-width="1.15"/>
<polygon points="305.98,267.70 312.38,276.10 305.98,284.50 299.58,276.10" fill="none" stroke="#2222d4" stroke-width="1.15"/>
<polygon points="342.91,244.80 349.31,253.20 342.91,261.60 336.51,253.20" fill="none" stroke="#2222d4" stroke-width="1.15"/>
<polygon points="342.91,245.40 349.31,253.80 342.91,262.20 336.51,253.80" fill="none" stroke="#2222d4" stroke-width="1.15"/>
<polygon points="342.91,250.60 349.31,259.00 342.91,267.40 336.51,259.00" fill="none" stroke="#2222d4" stroke-width="1.15"/>
<polygon points="342.91,252.60 349.31,261.00 342.91,269.40 336.51,261.00" fill="none" stroke="#2222d4" stroke-width="1.15"/>
<polygon points="342.91,258.60 349.31,267.00 342.91,275.40 336.51,267.00" fill="none" stroke="#2222d4" stroke-width="1.15"/>
<polygon points="342.91,259.10 349.31,267.50 342.91,275.90 336.51,267.50" fill="none" stroke="#2222d4" stroke-width="1.15"/>
<polygon points="379.84,232.60 386.24,241.00 379.84,249.40 373.44,241.00" fill="none" stroke="#2222d4" stroke-width="1.15"/>
<polygon points="379.84,236.10 386.24,244.50 379.84,252.90 373.44,244.50" fill="none" stroke="#2222d4" stroke-width="1.15"/>
<polygon points="379.84,239.60 386.24,248.00 379.84,256.40 373.44,248.00" fill="none" stroke="#2222d4" stroke-width="1.15"/>
<polygon points="379.84,243.10 386.24,251.50 379.84,259.90 373.44,251.50" fill="none" stroke="#2222d4" stroke-width="1.15"/>
<polygon points="379.84,246.30 386.24,254.70 379.84,263.10 373.44,254.70" fill="none" stroke="#2222d4" stroke-width="1.15"/>
<polygon points="416.77,225.60 423.17,234.00 416.77,242.40 410.37,234.00" fill="none" stroke="#2222d4" stroke-width="1.15"/>
<polygon points="416.77,230.60 423.17,239.00 416.77,247.40 410.37,239.00" fill="none" stroke="#2222d4" stroke-width="1.15"/>
<polygon points="416.77,235.10 423.17,243.50 416.77,251.90 410.37,243.50" fill="none" stroke="#2222d4" stroke-width="1.15"/>
<polygon points="416.77,239.60 423.17,248.00 416.77,256.40 410.37,248.00" fill="none" stroke="#2222d4" stroke-width="1.15"/>
<polygon points="453.70,216.40 460.10,224.80 453.70,233.20 447.30,224.80" fill="none" stroke="#2222d4" stroke-width="1.15"/>
<polygon points="453.70,218.60 460.10,227.00 453.70,235.40 447.30,227.00" fill="none" stroke="#2222d4" stroke-width="1.15"/>
<polygon points="453.70,221.10 460.10,229.50 453.70,237.90 447.30,229.50" fill="none" stroke="#2222d4" stroke-width="1.15"/>
<polygon points="453.70,223.80 460.10,232.20 453.70,240.60 447.30,232.20" fill="none" stroke="#2222d4" stroke-width="1.15"/>
<polygon points="490.63,203.20 497.03,211.60 490.63,220.00 484.23,211.60" fill="none" stroke="#2222d4" stroke-width="1.15"/>
<polygon points="490.63,206.20 497.03,214.60 490.63,223.00 484.23,214.60" fill="none" stroke="#2222d4" stroke-width="1.15"/>
<polygon points="490.63,209.40 497.03,217.80 490.63,226.20 484.23,217.80" fill="none" stroke="#2222d4" stroke-width="1.15"/>
<polygon points="490.63,212.60 497.03,221.00 490.63,229.40 484.23,221.00" fill="none" stroke="#2222d4" stroke-width="1.15"/>
<polygon points="490.63,215.60 497.03,224.00 490.63,232.40 484.23,224.00" fill="none" stroke="#2222d4" stroke-width="1.15"/>
<polygon points="527.56,192.20 533.96,200.60 527.56,209.00 521.16,200.60" fill="none" stroke="#2222d4" stroke-width="1.15"/>
<polygon points="527.56,194.60 533.96,203.00 527.56,211.40 521.16,203.00" fill="none" stroke="#2222d4" stroke-width="1.15"/>
<polygon points="527.56,197.10 533.96,205.50 527.56,213.90 521.16,205.50" fill="none" stroke="#2222d4" stroke-width="1.15"/>
<polygon points="527.56,199.40 533.96,207.80 527.56,216.20 521.16,207.80" fill="none" stroke="#2222d4" stroke-width="1.15"/>
<polygon points="564.49,174.20 570.89,182.60 564.49,191.00 558.09,182.60" fill="none" stroke="#2222d4" stroke-width="1.15"/>
<polygon points="564.49,178.20 570.89,186.60 564.49,195.00 558.09,186.60" fill="none" stroke="#2222d4" stroke-width="1.15"/>
<polygon points="564.49,182.80 570.89,191.20 564.49,199.60 558.09,191.20" fill="none" stroke="#2222d4" stroke-width="1.15"/>
<polygon points="601.42,154.80 607.82,163.20 601.42,171.60 595.02,163.20" fill="none" stroke="#2222d4" stroke-width="1.15"/>
<polygon points="601.42,156.60 607.82,165.00 601.42,173.40 595.02,165.00" fill="none" stroke="#2222d4" stroke-width="1.15"/>
<polygon points="601.42,158.20 607.82,166.60 601.42,175.00 595.02,166.60" fill="none" stroke="#2222d4" stroke-width="1.15"/>
<polygon points="453.00,260.90 454.95,265.12 459.56,265.67 456.15,268.82 457.06,273.38 453.00,271.11 448.94,273.38 449.85,268.82 446.44,265.67 451.05,265.12" fill="#ff0000"/>
<text transform="translate(476.60,277.10) scale(1,1.041)" font-size="24">G'</text>
<text transform="translate(511.40,277.10) scale(1,1.041)" font-size="24" xml:space="preserve">Experiment </text>
<path transform="translate(639.45,277.10) scale(0.01172,-0.01172)" d="M763 0L583 0L583 1147Q518 1085 412 1023Q306 961 223 930L223 1104Q372 1174 484 1274Q596 1374 643 1466L763 1466Z"/>
<polygon points="453.00,292.80 454.75,296.59 458.90,297.08 455.83,299.92 456.64,304.02 453.00,301.98 449.36,304.02 450.17,299.92 447.10,297.08 451.25,296.59" fill="none" stroke="#e41a1a" stroke-width="1.1" stroke-linejoin="miter"/>
<text transform="translate(476.60,308.30) scale(1,1.041)" font-size="24">G&quot;</text>
<text transform="translate(511.40,308.30) scale(1,1.041)" font-size="24" xml:space="preserve">Experiment </text>
<path transform="translate(639.45,308.30) scale(0.01172,-0.01172)" d="M763 0L583 0L583 1147Q518 1085 412 1023Q306 961 223 930L223 1104Q372 1174 484 1274Q596 1374 643 1466L763 1466Z"/>
<circle cx="453.00" cy="330.20" r="6.8" fill="#000000"/>
<text transform="translate(476.60,339.50) scale(1,1.041)" font-size="24">G'</text>
<text transform="translate(511.40,339.50) scale(1,1.041)" font-size="24" xml:space="preserve">Experiment </text>
<text transform="translate(639.45,339.50) scale(1,1.041)" font-size="24">2</text>
<circle cx="453.00" cy="361.40" r="6.2" fill="none" stroke="#111111" stroke-width="1.2"/>
<text transform="translate(476.60,370.70) scale(1,1.041)" font-size="24">G&quot;</text>
<text transform="translate(511.40,370.70) scale(1,1.041)" font-size="24" xml:space="preserve">Experiment </text>
<text transform="translate(639.45,370.70) scale(1,1.041)" font-size="24">2</text>
<polygon points="453.00,383.50 460.00,392.60 453.00,401.70 446.00,392.60" fill="#0000ff"/>
<text transform="translate(476.60,401.90) scale(1,1.041)" font-size="24">G'</text>
<text transform="translate(511.40,401.90) scale(1,1.041)" font-size="24" xml:space="preserve">Experiment </text>
<text transform="translate(639.45,401.90) scale(1,1.041)" font-size="24">3</text>
<polygon points="453.00,415.40 459.40,423.80 453.00,432.20 446.60,423.80" fill="none" stroke="#2222d4" stroke-width="1.15"/>
<text transform="translate(476.60,433.10) scale(1,1.041)" font-size="24">G&quot;</text>
<text transform="translate(511.40,433.10) scale(1,1.041)" font-size="24" xml:space="preserve">Experiment </text>
<text transform="translate(639.45,433.10) scale(1,1.041)" font-size="24">3</text>
</svg></body></html>
